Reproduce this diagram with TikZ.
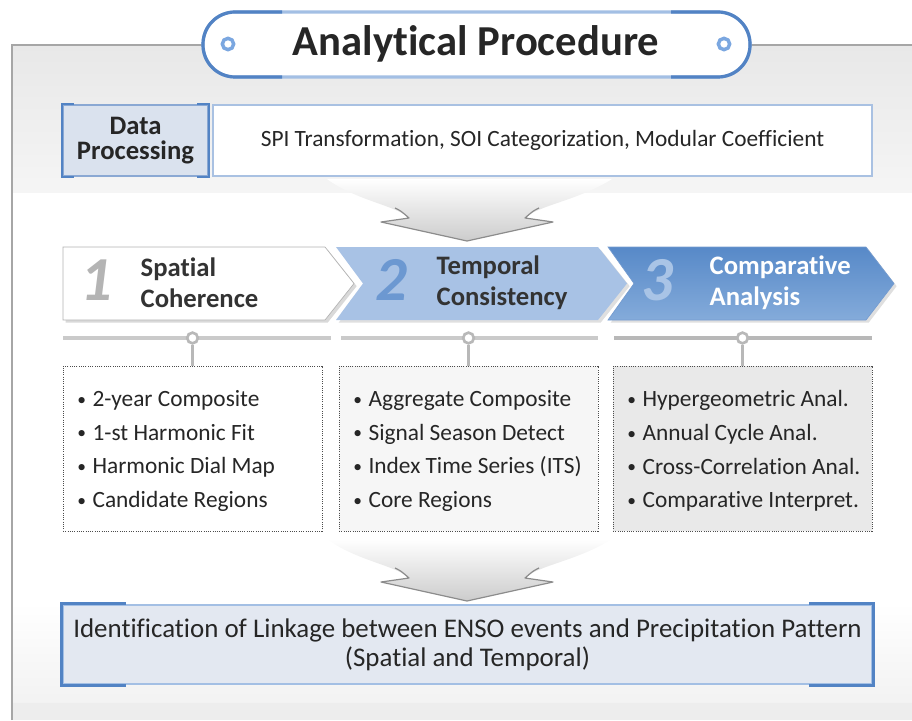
\documentclass[tikz,border=0pt]{standalone}
\usepackage{fontspec}
\setmainfont[Ligatures=NoCommon]{Carlito}
\usetikzlibrary{fit,shadows,positioning}

\definecolor{inkgray}{HTML}{262626}
\definecolor{pillblue}{HTML}{A3BFE4}
\definecolor{pilldark}{HTML}{5283C4}
\definecolor{ringblue}{HTML}{7BA7E0}
\definecolor{procfill}{HTML}{DAE2EE}
\definecolor{procline}{HTML}{8AA8D3}
\definecolor{spiline}{HTML}{A9C1E2}
\definecolor{steptwo}{HTML}{A8C2E5}
\definecolor{stepthreetop}{HTML}{5789C8}
\definecolor{stepthreebot}{HTML}{84ABDA}
\definecolor{numone}{HTML}{B4B4B4}
\definecolor{numtwo}{HTML}{6C98D1}
\definecolor{numthree}{HTML}{A9C4E6}
\definecolor{barlight}{HTML}{CACACA}
\definecolor{bardark}{HTML}{B8B8B8}
\definecolor{boxtwo}{HTML}{F6F6F6}
\definecolor{boxthree}{HTML}{E9E9E9}
\definecolor{resfill}{HTML}{E3E8F1}

\newcommand{\bul}{\makebox[11.5pt][l]{\raisebox{1pt}{\scalebox{0.75}{\textbullet}}}}

\tikzset{
  pill/.style={draw=pillblue, line width=2.4pt, fill=white, rounded corners=24pt, inner sep=0pt},
  ring/.style={circle, draw=ringblue, line width=2.6pt, fill=white, minimum size=8.5pt, inner sep=0pt},
  edgedark/.style={draw=pilldark, line width=2.4pt},
  titletext/.style={text=inkgray, font=\fontsize{32}{36}\selectfont\bfseries},
  procbox/.style={draw=procline, line width=1.6pt, fill=procfill, inner sep=0pt},
  proctext/.style={align=center, text=inkgray, font=\fontsize{20}{18.5}\selectfont\bfseries},
  spibox/.style={draw=spiline, line width=1.2pt, fill=white, inner sep=0pt},
  spitext/.style={text=inkgray, font=\fontsize{17.5}{21}\selectfont},
  stepone/.style={fill=white, draw=black!30, line width=0.5pt,
    drop shadow={opacity=0.3, shadow xshift=2pt, shadow yshift=-2pt}},
  steptwo/.style={fill=steptwo,
    drop shadow={opacity=0.25, shadow xshift=2pt, shadow yshift=-2pt}},
  stepthree/.style={top color=stepthreetop, bottom color=stepthreebot, draw=pilldark!80, line width=0.5pt,
    drop shadow={opacity=0.25, shadow xshift=2pt, shadow yshift=-2pt}},
  stepnum/.style={font=\fontsize{47}{47}\selectfont\bfseries\itshape},
  steplabel/.style={anchor=west, align=left, font=\fontsize{20}{23}\selectfont\bfseries},
  bar/.style={line width=3.6pt},
  joint/.style={circle, draw=bardark, line width=2pt, fill=white, minimum size=8pt, inner sep=0pt},
  stem/.style={draw=bardark, line width=1.6pt},
  listbox/.style={draw=black!70, densely dotted, line width=0.7pt, inner sep=0pt},
  items/.style={anchor=west, align=left, inner sep=0pt, text=inkgray, font=\fontsize{17.5}{25.3}\selectfont},
  resbox/.style={draw=pillblue, line width=2pt, fill=resfill, inner sep=0pt},
  restext/.style={align=center, text=inkgray, font=\fontsize{20.2}{21.8}\selectfont},
  funnel/.pic={
    \shade[top color=white, bottom color=black!20]
      (-140,-62) .. controls (-110,-40) and (-72,-36) .. (-58,-23) -- (-86,-19) -- (0,0)
      -- (86,-19) -- (58,-23) .. controls (72,-36) and (110,-40) .. (145,-62) -- cycle;
    \draw[black!45, line width=0.9pt, line join=round]
      (-72,-33) .. controls (-66,-30) .. (-58,-23) -- (-86,-19) -- (0,0)
      -- (86,-19) -- (58,-23) .. controls (66,-30) .. (72,-33);
  }
}

\begin{document}
\begin{tikzpicture}[x=0.75pt, y=-0.75pt]
\useasboundingbox (0,0) rectangle (912,720);

% background panel
\shade[top color=black!9, bottom color=black!4] (12,45) rectangle (912,193);
\shade[top color=white, bottom color=black!5] (12,603) rectangle (912,703);
\fill[black!7] (12,703) rectangle (912,720);
\draw[black!35, line width=0.8pt] (12,720) -- (12,45) -- (912,45);

% title
\node[pill, fit={(203,12) (750,77)}] (title) {};
\begin{scope}
  \clip (190,0) rectangle (282,90) (671,0) rectangle (765,90);
  \draw[pill, fill=none, draw=pilldark] (203,12) rectangle (750,77);
\end{scope}
\node[titletext] (titletext) at (476,44) {Analytical Procedure};
\node[ring] (lring) at (228,44) {};
\node[ring] (rring) at (724,44) {};

% data processing
\node[procbox, fit={(63,105) (208,176)}] (proc) {};
\draw[edgedark, line width=1.6pt] ([xshift=9pt]proc.north west) -- (proc.north west) -- (proc.south west) -- ([xshift=9pt]proc.south west);
\draw[edgedark, line width=1.6pt] ([xshift=-9pt]proc.north east) -- (proc.north east) -- (proc.south east) -- ([xshift=-9pt]proc.south east);
\node[proctext] (proctext) at (proc.center) {Data\\Processing};
\node[spibox, fit={(213,105) (872,176)}] (spi) {};
\node[spitext] (spitext) at (spi.center) {SPI Transformation, SOI Categorization, Modular Coefficient};

\pic at (467,241) {funnel};

% the three steps
\path[stepthree] (608,247) -- (866,247) -- (894,283.5) -- (866,320) -- (608,320) -- (634,283.5) -- cycle;
\path[steptwo] (336,247) -- (598,247) -- (627,283.5) -- (598,320) -- (336,320) -- (363,283.5) -- cycle;
\path[stepone] (63,247) -- (325,247) -- (354,283.5) -- (325,320) -- (63,320) -- cycle;

\node[stepnum, text=numone] (num1) at (96,280) {1};
\node[stepnum, text=numtwo] (num2) at (391,280) {2};
\node[stepnum, text=numthree] (num3) at (657,280) {3};
\node[steplabel, text=black!80] (lab1) at (136,283) {Spatial\\Coherence};
\node[steplabel, text=black!80] (lab2) at (432,283) {Temporal\\Consistency};
\node[steplabel, text=white] (lab3) at (705,283) {Comparative\\Analysis};

% bars and joints
\draw[bar, barlight] (63,338) -- (331,338);
\draw[bar, barlight] (341,338) -- (598,338);
\draw[bar, bardark] (614,338) -- (872,338);
\node[joint] (joint1) at (192.5,338) {};
\node[joint] (joint2) at (468.5,338) {};
\node[joint] (joint3) at (742.5,338) {};

% detail boxes
\node[listbox, fill=white, fit={(63,366) (322,531)}] (box1) {};
\node[listbox, fill=boxtwo, fit={(339,366) (598,531)}] (box2) {};
\node[listbox, fill=boxthree, fit={(613,366) (872,531)}] (box3) {};
\draw[stem] (joint1) -- (box1.north);
\draw[stem] (joint2) -- (box2.north);
\draw[stem] (joint3) -- (box3.north);

\node[items] (items1) at (77,451) {\bul 2-year Composite\\\bul 1-st Harmonic Fit\\\bul Harmonic Dial Map\\\bul Candidate Regions};
\node[items] (items2) at (353,451) {\bul Aggregate Composite\\\bul Signal Season Detect\\\bul Index Time Series (ITS)\\\bul Core Regions};
\node[items] (items3) at (627,451) {\bul Hypergeometric Anal.\\\bul Annual Cycle Anal.\\\bul Cross-Correlation Anal.\\\bul Comparative Interpret.};

\pic at (467,601) {funnel};

% result
\node[resbox, fit={(63,605) (872,684)}] (result) {};
\draw[edgedark, line width=2pt] ([xshift=48pt]result.north west) -- (result.north west) -- (result.south west) -- ([xshift=48pt]result.south west);
\draw[edgedark, line width=2pt] ([xshift=-48pt]result.north east) -- (result.north east) -- (result.south east) -- ([xshift=-48pt]result.south east);
\node[restext] (restext) at (result.center) {Identification of Linkage between ENSO events and Precipitation Pattern\\(Spatial and Temporal)};
\end{tikzpicture}
\end{document}
